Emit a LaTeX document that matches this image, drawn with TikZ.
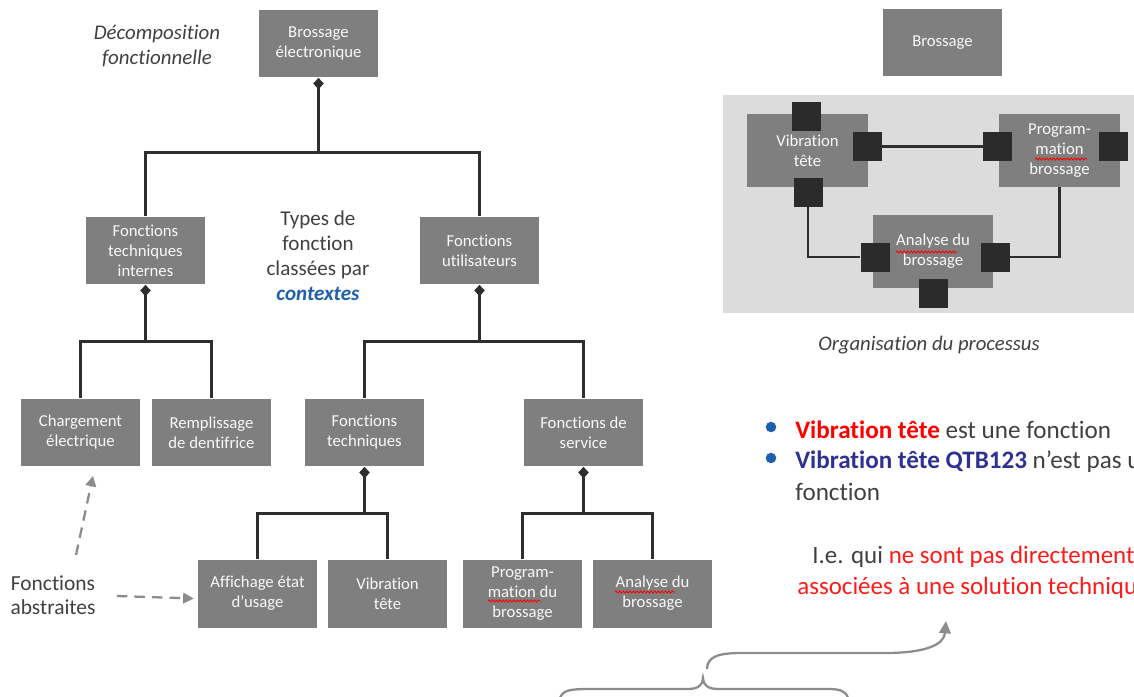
\documentclass[tikz,border=0pt]{standalone}
\usepackage{fontspec}
\setmainfont{Carlito}[Ligatures=NoCommon]
\usetikzlibrary{arrows.meta,shapes.geometric,decorations.pathmorphing}

\definecolor{boxgray}{HTML}{7F7F7F}
\definecolor{panelgray}{HTML}{DCDCDC}
\definecolor{portblack}{HTML}{2B2B2B}
\definecolor{linedark}{HTML}{2E2E2E}
\definecolor{textdark}{HTML}{404040}
\definecolor{dashgray}{HTML}{8C8C8C}
\definecolor{ctxblue}{HTML}{1F5FAD}
\definecolor{qtbblue}{HTML}{2E3192}
\definecolor{alertred}{HTML}{FF1A1A}
\definecolor{bulletblue}{HTML}{1F5FAD}

\tikzset{
  fbox/.style={fill=boxgray, text=white!95!gray, align=center, inner sep=2pt,
    minimum width=2.38cm, minimum height=1.36cm,
    font=\fontsize{9.5}{11.4}\selectfont},
  pbox/.style={fbox, minimum width=2.42cm, minimum height=1.46cm},
  port/.style={fill=portblack, minimum size=0.58cm, inner sep=0pt},
  link/.style={draw=linedark, line width=1.7pt},
  owner/.style={link, {Diamond[length=6.5pt,width=6pt]}-},
  hint/.style={draw=dashgray, line width=1.3pt, dash pattern=on 6pt off 4pt,
    -{Triangle[length=6pt,width=6pt]}},
  brace/.style={draw=dashgray, line width=1.3pt},
  note/.style={text=textdark, align=center, inner sep=0pt},
  remark/.style={anchor=base west, inner sep=0pt, text=textdark,
    font=\fontsize{14.3}{16}\selectfont},
  spell/.style={draw=red, line width=0.5pt,
    decorate, decoration={snake, segment length=2pt, amplitude=0.6pt}},
}

\begin{document}
\begin{tikzpicture}[x=0.02cm, y=-0.02cm]
\useasboundingbox (0,0) rectangle (1134,697);
\clip (0,0) rectangle (1134,697);

% ---------- functional decomposition tree ----------
\node[fbox] (be)  at (318.5,43.5)  {Brossage\\électronique};
\node[fbox] (fti) at (145.5,250.5) {Fonctions\\techniques\\internes};
\node[fbox] (fu)  at (479.5,250.5) {Fonctions\\utilisateurs};
\node[fbox] (ce)  at (80.5,432.5)  {Chargement\\électrique};
\node[fbox] (rd)  at (211.5,432.5) {Remplissage\\de dentifrice};
\node[fbox] (ft)  at (364.5,432.5) {Fonctions\\techniques};
\node[fbox] (fs)  at (583.5,432.5) {Fonctions de\\service};
\node[fbox] (ae)  at (257.5,593.5) {Affichage état\\d’usage};
\node[fbox] (vt)  at (387.5,593.5) {Vibration\\tête};
\node[fbox] (pb)  at (522.5,593.5) {Program-\\mation du\\brossage};
\node[fbox] (ab)  at (652.5,593.5) {Analyse du\\brossage};

\path (be.south)  ++(0,75) coordinate (j0);
\path (fti.south) ++(0,57) coordinate (j1);
\path (fu.south)  ++(0,57) coordinate (j2);
\path (ft.south)  ++(0,47) coordinate (j3);
\path (fs.south)  ++(0,47) coordinate (j4);

\draw[owner] (be.south) -- (j0);
\draw[link] (fti.north) |- (j0) -| (fu.north);
\draw[owner] (fti.south) -- (j1);
\draw[link] (ce.north) |- (j1) -| (rd.north);
\draw[owner] (fu.south) -- (j2);
\draw[link] (ft.north) |- (j2) -| (fs.north);
\draw[owner] (ft.south) -- (j3);
\draw[link] (ae.north) |- (j3) -| (vt.north);
\draw[owner] (fs.south) -- (j4);
\draw[link] (pb.north) |- (j4) -| (ab.north);

% ---------- captions of the tree ----------
\node[note, font=\fontsize{11.9}{14.2}\itshape] (dec) at (157,46)
  {Décomposition\\fonctionnelle};
\node[note, font=\fontsize{12}{14.3}\selectfont] (types) at (318,256)
  {Types de\\fonction\\classées par\\\textcolor{ctxblue}{\bfseries\itshape contextes}};
\node[note, font=\fontsize{12.2}{13.7}\selectfont] (fa) at (53,595)
  {Fonctions\\abstraites};

\coordinate (d1s) at (76,555);
\draw[hint] (d1s) -- ([xshift=0.25cm,yshift=-0.18cm]ce.south);
\draw[hint] ([xshift=0.42cm,yshift=-0.02cm]fa.east) -- ([xshift=-0.08cm,yshift=-0.1cm]ae.west);

% ---------- process organisation ----------
\node[fbox] (br) at (942.5,42.5) {Brossage};
\fill[panelgray] (723,95) rectangle (1140,313);

\node[pbox] (pvt) at (807.5,150.5) {Vibration\\tête};
\node[pbox] (ppm) at (1059.5,150.5) {Program-\\mation\\brossage};
\node[pbox] (pad) at (933,251.5) {Analyse du\\brossage};

\node[port] (s1) at (806.5,116) {};
\node[port] (s2) at (867.5,146.5) {};
\node[port] (s3) at (808,192) {};
\node[port] (s4) at (997.5,146.5) {};
\node[port] (s5) at (1113.5,146) {};
\node[port] (s6) at (875,257) {};
\node[port] (s7) at (995,257) {};
\node[port] (s8) at (933.5,293) {};

\draw[link, line width=1.5pt] (s2.east) -- (s4.west);
\draw[link, line width=1.5pt] (s3.south) |- (s6.west);
\draw[link, line width=1.5pt] (s7.east) -| (ppm.south);

% spell-check marks under two words
\draw[spell] (488,601) -- (541,601);
\draw[spell] (615,592) -- (675,592);
\draw[spell] (1035,159) -- (1087,159);
\draw[spell] (896,252) -- (957,252);

\node[note, font=\fontsize{11.8}{13}\itshape] (org) at (929,345)
  {Organisation du processus};

% ---------- remarks ----------
\node[circle, fill=bulletblue, minimum size=6pt, inner sep=0pt] (b1) at (771,427) {};
\node[circle, fill=bulletblue, minimum size=6pt, inner sep=0pt] (b2) at (771,458) {};
\node[remark] (t1) at (795,438)
  {\textcolor{red}{\bfseries Vibration tête} est une fonction};
\node[remark] (t2) at (795,468)
  {\textcolor{qtbblue}{\bfseries Vibration tête QTB123} n’est pas une};
\node[remark] (t3) at (795,500)
  {fonction};

\node[remark, font=\fontsize{14.2}{16}\selectfont] (ie1) at (812,563)
  {I.e. qui \textcolor{alertred}{ne sont pas directement}};
\node[remark, text=alertred, font=\fontsize{14.2}{16}\selectfont] (ie2) at (797,594)
  {associées à une solution technique};

% ---------- brace and pointer ----------
\coordinate (bl) at (560,698);
\coordinate (bt) at (703,678);
\coordinate (brr) at (848,698);
\coordinate (as) at (707,669);
\coordinate (ai) at (946,621);
\draw[brace] (bl) .. controls (563,690) and (570,689) .. (590,689) -- (688,689)
  .. controls (698,689) and (703,685) .. (bt)
  .. controls (703,685) and (708,689) .. (718,689) -- (828,689)
  .. controls (840,689) and (846,691) .. (brr);
\draw[brace, -{Triangle[length=7pt,width=6.5pt]}] (as) .. controls (707,656) and (720,653) .. (742,653)
  -- (885,653) .. controls (925,653) and (944,645) .. (ai);

\end{tikzpicture}
\end{document}
